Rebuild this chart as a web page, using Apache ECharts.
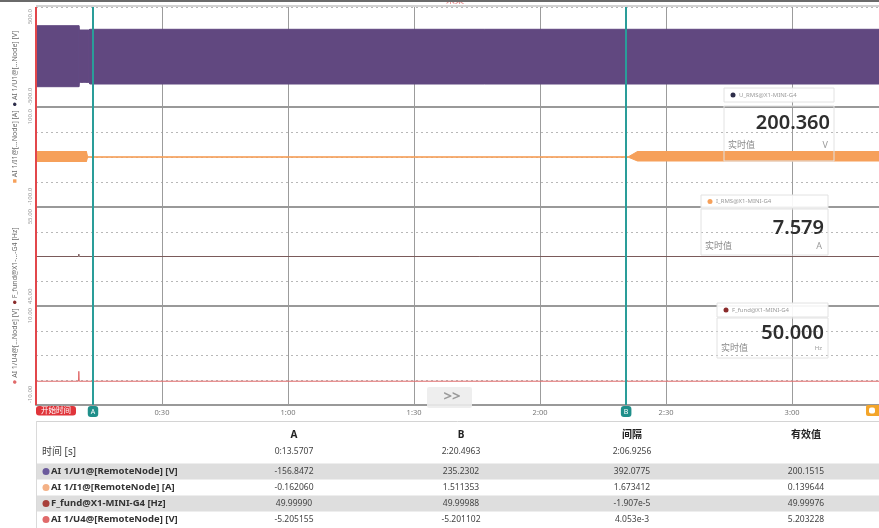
<!DOCTYPE html>
<html><head><meta charset="utf-8">
<script src="https://cdn.jsdelivr.net/npm/echarts@6/dist/echarts.min.js"></script>
<style>html,body{margin:0;padding:0;background:#fff;}#c{width:879px;height:528px;}</style>
</head><body><div id="c"></div>
<script>
// ---------------- data ----------------
const timeMaxSec = 200.7;
const tickStepSec = 30;
// AI 1/U1 envelope (V)
const u1Time  = [0, 10.2, 10.3, 12.6, 12.8, 200.7];
const u1Upper = [313, 313, 270, 270, 277, 277];
const u1Lower = [-297, -297, -253, -253, -270, -270];
// AI 1/I1 envelope (A)
const i1Time  = [0, 12.0, 12.3, 141.0, 143.2, 200.7];
const i1Upper = [11, 11, 0.3, 0.3, 11, 11];
const i1Lower = [-9, -9, -0.3, -0.3, -8, -8];
// F_fund (Hz)
const fTime  = [0, 10.1, 10.2, 10.3, 200.7];
const fValue = [50, 50, 50.25, 50, 50];
// AI 1/U4 (V)
const u4Time  = [0, 10.1, 10.2, 10.3, 200.7];
const u4Value = [-5.2, -5.2, -3.2, -5.2, -5.2];
// cursors (s)
const cursorStart = 0;
const cursorA = 13.5707;
const cursorB = 140.4963;
const cursorTags = ['开始时间', 'A', 'B'];
// panel ranges
const yMin = [-500, -100, 45, -10];
const yMax = [500, 100, 55, 10];
const yTopLabels = ['500.0', '100.0', '55.00', '10.00'];
const yBottomLabels = ['-500.0', '-100.0', '45.00', '-10.00'];
// left legends
const legendUpperA = 'AI 1/I1@[...Node] [A]';
const legendUpperB = 'AI 1/U1@[...Node] [V]';
const legendLowerA = 'AI 1/U4@[...Node] [V]';
const legendLowerB = 'F_fund@X1-...-G4 [Hz]';
// table
const tableHeaders = ['A', 'B', '间隔', '有效值'];
const timeRowLabel = '时间 [s]';
const timeRowValues = ['0:13.5707', '2:20.4963', '2:06.9256', ''];
const channelNames = ['AI 1/U1@[RemoteNode] [V]', 'AI 1/I1@[RemoteNode] [A]', 'F_fund@X1-MINI-G4 [Hz]', 'AI 1/U4@[RemoteNode] [V]'];
const valuesA = ['-156.8472', '-0.162060', '49.99990', '-5.205155'];
const valuesB = ['235.2302', '1.511353', '49.99988', '-5.201102'];
const valuesDelta = ['392.0775', '1.673412', '-1.907e-5', '4.053e-3'];
const valuesRms = ['200.1515', '0.139644', '49.99976', '5.203228'];
// live value widgets
const liveNames = ['U_RMS@X1-MINI-G4', 'I_RMS@X1-MINI-G4', 'F_fund@X1-MINI-G4'];
const liveValues = ['200.360', '7.579', '50.000'];
const liveUnits = ['V', 'A', 'Hz'];
const liveCaption = '实时值';

// ---------------- style / layout ----------------
const FONT = "'Noto Sans', 'Noto Sans CJK SC', sans-serif";
const PURPLE = '#614880';
const ORANGE = '#f6a05a';
const FCOLOR = '#7a5a5a';
const U4COLOR = '#e06a6a';
const TEAL = '#2a9d99';
const RED = '#e2474b';
const gridTops = [7, 107, 207, 306];
const gridHeights = [100, 100, 99, 99];
const chanColors = ['#6b5a9c', '#f4b186', '#a8403a', '#e06a6a'];

function pairs(t, v) { return t.map((x, i) => [x, v[i]]); }
function fmtTime(v) { const m = Math.floor(v / 60), s = Math.round(v % 60); return m + ':' + String(s).padStart(2, '0'); }

function cursorLines(showLabels) {
  const tag = (text, bg, extra) => showLabels ? Object.assign({
    show: true, position: 'start', formatter: text, color: '#fff', backgroundColor: bg,
    borderRadius: 3, fontSize: 7, padding: [2, 3], distance: 1, fontFamily: FONT
  }, extra || {}) : { show: false };
  return {
    silent: true, symbol: ['none', 'none'], animation: false,
    emphasis: { disabled: true },
    data: [
      { xAxis: cursorStart, lineStyle: { color: RED, width: 2, type: 'solid' }, label: tag(cursorTags[0], '#e0353b', { align: 'left', padding: [1, 5], fontSize: 7.5 }) },
      { xAxis: cursorA, lineStyle: { color: TEAL, width: 2, type: 'solid' }, label: tag(cursorTags[1], '#1f8f8a') },
      { xAxis: cursorB, lineStyle: { color: TEAL, width: 2, type: 'solid' }, label: tag(cursorTags[2], '#1f8f8a') }
    ]
  };
}

// envelope band drawn as polygons between consecutive samples
function bandSeries(gi, name, time, lo, up, color) {
  return {
    name: name, type: 'custom', xAxisIndex: gi, yAxisIndex: gi, silent: true, clip: true,
    data: time.map((t, i) => [t, lo[i], up[i]]),
    encode: { x: 0, y: [1, 2] },
    renderItem: function (params, api) {
      const i = params.dataIndex;
      if (i >= time.length - 1) return null;
      const pts = [
        api.coord([time[i], up[i]]), api.coord([time[i + 1], up[i + 1]]),
        api.coord([time[i + 1], lo[i + 1]]), api.coord([time[i], lo[i]])
      ];
      return { type: 'polygon', shape: { points: pts }, style: { fill: color, stroke: color, lineWidth: 1 } };
    },
    markLine: cursorLines(false)
  };
}

const chart = echarts.init(document.getElementById('c'), null, { renderer: 'canvas' });

const option = {
  animation: false,
  backgroundColor: '#ffffff',
  textStyle: { fontFamily: FONT },
  grid: gridTops.map((t, i) => ({ left: 36, right: 0, top: t, height: gridHeights[i], containLabel: false })),
  xAxis: gridTops.map((t, i) => ({
    gridIndex: i, type: 'value', min: 0, max: timeMaxSec, interval: tickStepSec,
    axisLine: { show: true, onZero: false, lineStyle: { color: '#999', width: 2 } },
    axisTick: { show: false },
    axisLabel: { show: i === 3, fontSize: 7.5, color: '#777', margin: 4, showMinLabel: false, showMaxLabel: false, formatter: fmtTime, fontFamily: FONT },
    splitLine: { show: true, lineStyle: { color: '#9c9c9c', width: 1 } }
  })),
  yAxis: gridTops.map((t, i) => ({
    gridIndex: i, type: 'value', min: yMin[i], max: yMax[i], interval: (yMax[i] - yMin[i]) / 4,
    axisLine: { show: false }, axisTick: { show: false }, axisLabel: { show: false },
    splitLine: { show: true, lineStyle: { color: '#b8b8b8', width: 1, type: [2, 3] } }
  })),
  series: [
    bandSeries(0, 'AI 1/U1', u1Time, u1Lower, u1Upper, PURPLE),
    bandSeries(1, 'AI 1/I1', i1Time, i1Lower, i1Upper, ORANGE),
    { name: 'F_fund', type: 'line', xAxisIndex: 2, yAxisIndex: 2, data: pairs(fTime, fValue),
      symbol: 'none', lineStyle: { color: FCOLOR, width: 1 }, silent: true, markLine: cursorLines(false) },
    { name: 'AI 1/U4', type: 'line', xAxisIndex: 3, yAxisIndex: 3, data: pairs(u4Time, u4Value),
      symbol: 'none', lineStyle: { color: U4COLOR, width: 1 }, silent: true, markLine: cursorLines(true) }
  ]
};
chart.setOption(option);

// ---------------- decorations (graphic) ----------------
const g = [];
const W = 879;
// top frame lines
g.push({ type: 'line', shape: { x1: 0, y1: 1, x2: W, y2: 1 }, style: { stroke: '#6a6a6a', lineWidth: 2 }, z: 50 });
g.push({ type: 'line', shape: { x1: 36, y1: 6, x2: W, y2: 6 }, style: { stroke: '#d2d2d2', lineWidth: 2 }, z: 50 });
g.push({ type: 'text', x: 455, y: 0, style: { text: '采集', fill: '#e07a7a', fontSize: 9, fontFamily: FONT, align: 'center', verticalAlign: 'middle' }, z: 49 });

// y range labels (rotated)
for (let i = 0; i < 4; i++) {
  const top = chart.convertToPixel({ gridIndex: i }, [0, yMax[i]])[1];
  const bot = chart.convertToPixel({ gridIndex: i }, [0, yMin[i]])[1];
  g.push({ type: 'text', x: 30, y: top + 2, rotation: Math.PI / 2, style: { text: yTopLabels[i], fill: '#9a9a9a', fontSize: 6, fontFamily: FONT, align: 'right', verticalAlign: 'middle' }, z: 50 });
  g.push({ type: 'text', x: 30, y: bot - 2, rotation: Math.PI / 2, style: { text: yBottomLabels[i], fill: '#9a9a9a', fontSize: 6, fontFamily: FONT, align: 'left', verticalAlign: 'middle' }, z: 50 });
}
// legends along left (rotated)
const upMid = (chart.convertToPixel({ gridIndex: 0 }, [0, yMax[0]])[1] + chart.convertToPixel({ gridIndex: 1 }, [0, yMin[1]])[1]) / 2;
const loMid = (chart.convertToPixel({ gridIndex: 2 }, [0, yMax[2]])[1] + chart.convertToPixel({ gridIndex: 3 }, [0, yMin[3]])[1]) / 2;
g.push({ type: 'text', x: 15, y: upMid, rotation: Math.PI / 2, style: {
  text: '{a|■} ' + legendUpperA + '  {b|●} ' + legendUpperB, fill: '#6a6a6a', fontSize: 7, fontFamily: FONT, align: 'center', verticalAlign: 'middle',
  rich: { a: { fill: ORANGE, fontSize: 7 }, b: { fill: '#2d2d4a', fontSize: 8 } } }, z: 50 });
g.push({ type: 'text', x: 15, y: loMid, rotation: Math.PI / 2, style: {
  text: '{a|●} ' + legendLowerA + '  {b|●} ' + legendLowerB, fill: '#6a6a6a', fontSize: 7, fontFamily: FONT, align: 'center', verticalAlign: 'middle',
  rich: { a: { fill: U4COLOR, fontSize: 8 }, b: { fill: '#8a2b2b', fontSize: 8 } } }, z: 50 });

// end-of-record tag (right edge)
g.push({ type: 'rect', shape: { x: 866, y: 405, width: 16, height: 11, r: 2 }, style: { fill: '#f3a52a' }, z: 50 });
g.push({ type: 'rect', shape: { x: 869, y: 407.5, width: 6, height: 6, r: 2 }, style: { fill: '#fff' }, z: 51 });
// ">>" button
g.push({ type: 'rect', shape: { x: 427, y: 387, width: 45, height: 21, r: 2 }, style: { fill: 'rgba(236,236,236,0.9)' }, z: 50 });
g.push({ type: 'text', x: 452, y: 397, style: { text: '>>', fill: '#9a9a9a', fontSize: 15, fontWeight: 'bold', fontFamily: FONT, align: 'center', verticalAlign: 'middle' }, z: 51 });

// live value widgets
const boxes = [
  { hx: 724, hy: 88, hw: 110, hh: 14, vy: 106, vh: 55, valY: 123, capY: 145 },
  { hx: 701, hy: 195, hw: 127, hh: 13, vy: 209, vh: 46, valY: 228, capY: 246 },
  { hx: 717, hy: 303, hw: 111, hh: 14, vy: 318, vh: 40, valY: 333, capY: 348 }
];
const liveDot = ['#2d2d4a', ORANGE, '#8a2b2b'];
boxes.forEach((b, i) => {
  g.push({ type: 'rect', shape: { x: b.hx, y: b.hy, width: b.hw, height: b.hh }, style: { fill: 'rgba(255,255,255,0.92)', stroke: '#e2e2e2', lineWidth: 1 }, z: 60 });
  g.push({ type: 'circle', shape: { cx: b.hx + 9, cy: b.hy + b.hh / 2, r: 2.5 }, style: { fill: liveDot[i] }, z: 61 });
  g.push({ type: 'text', x: b.hx + 15, y: b.hy + b.hh / 2, style: { text: liveNames[i], fill: '#9a9a9a', fontSize: 6, fontFamily: FONT, align: 'left', verticalAlign: 'middle' }, z: 61 });
  g.push({ type: 'rect', shape: { x: b.hx, y: b.vy, width: b.hw, height: b.vh }, style: { fill: 'rgba(255,255,255,0)', stroke: '#e2e2e2', lineWidth: 1 }, z: 60 });
  g.push({ type: 'text', x: b.hx + b.hw - 4, y: b.valY, style: { text: liveValues[i], fill: '#2e2e2e', fontSize: 20, fontWeight: 600, fontFamily: FONT, align: 'right', verticalAlign: 'middle' }, z: 61 });
  g.push({ type: 'text', x: b.hx + 4, y: b.capY, style: { text: liveCaption, fill: '#8a8a8a', fontSize: 9, fontFamily: FONT, align: 'left', verticalAlign: 'middle' }, z: 61 });
  g.push({ type: 'text', x: b.hx + b.hw - 6, y: b.capY, style: { text: liveUnits[i], fill: '#9a9a9a', fontSize: i === 2 ? 6 : 9, fontFamily: FONT, align: 'right', verticalAlign: 'middle' }, z: 61 });
});

// table
const colX = [294, 461, 632, 806];
const headerY = 435, timeY = 452;
const rowY = [471.5, 487.5, 503.5, 519.5];
g.push({ type: 'line', shape: { x1: 36, y1: 421.5, x2: W, y2: 421.5 }, style: { stroke: '#d4d4d4', lineWidth: 1 }, z: 40 });
g.push({ type: 'line', shape: { x1: 36.5, y1: 421, x2: 36.5, y2: 528 }, style: { stroke: '#dadada', lineWidth: 1 }, z: 40 });
rowY.forEach((y, r) => {
  if (r % 2 === 0) g.push({ type: 'rect', shape: { x: 37, y: y - 8, width: W - 37, height: 16 }, style: { fill: '#dedede' }, z: 40 });
});
tableHeaders.forEach((h, c) => g.push({ type: 'text', x: colX[c], y: headerY, style: { text: h, fill: '#222', fontSize: 10, fontWeight: 'bold', fontFamily: FONT, align: 'center', verticalAlign: 'middle' }, z: 41 }));
g.push({ type: 'text', x: 42, y: timeY, style: { text: timeRowLabel, fill: '#444', fontSize: 10, fontFamily: FONT, align: 'left', verticalAlign: 'middle' }, z: 41 });
timeRowValues.forEach((v, c) => g.push({ type: 'text', x: colX[c], y: timeY, style: { text: v, fill: '#444', fontSize: 8.5, fontFamily: FONT, align: 'center', verticalAlign: 'middle' }, z: 41 }));
const cols = [valuesA, valuesB, valuesDelta, valuesRms];
channelNames.forEach((n, r) => {
  g.push({ type: 'circle', shape: { cx: 46, cy: rowY[r], r: 3.5 }, style: { fill: chanColors[r] }, z: 41 });
  g.push({ type: 'text', x: 51, y: rowY[r], style: { text: n, fill: '#333', fontSize: 9.5, fontWeight: 'bold', fontFamily: FONT, align: 'left', verticalAlign: 'middle' }, z: 41 });
  cols.forEach((arr, c) => g.push({ type: 'text', x: colX[c], y: rowY[r], style: { text: arr[r], fill: '#444', fontSize: 8.5, fontFamily: FONT, align: 'center', verticalAlign: 'middle' }, z: 41 }));
});

chart.setOption({ graphic: { elements: g } });
</script>
</body></html>
